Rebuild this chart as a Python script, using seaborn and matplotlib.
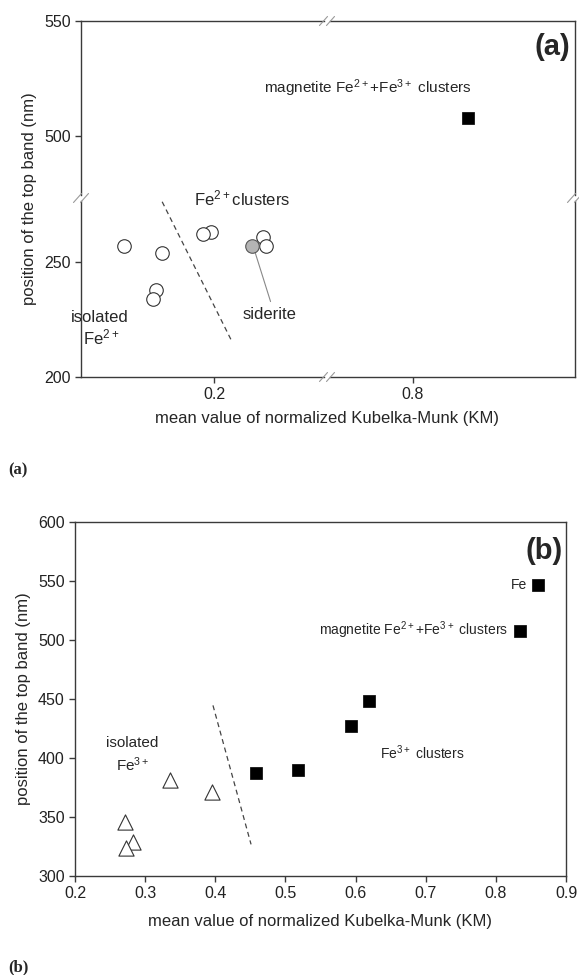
import numpy as np
import pandas as pd
import matplotlib
matplotlib.use("Agg")
import matplotlib.pyplot as plt
from matplotlib.lines import Line2D
import seaborn as sns

# panel (a): Fe2+ species
a_iso_x = [0.143, 0.167, 0.163, 0.161]
a_iso_y = [257, 254, 238, 234]
a_clu_x = [0.198, 0.193, 0.231, 0.233]
a_clu_y = [263, 262, 261, 257]
a_sid_x = [0.224]
a_sid_y = [257]
a_mag_x = [0.835]
a_mag_y = [508]

# panel (b): Fe3+ species
b_tri_x = [0.336, 0.395, 0.271, 0.283, 0.273]
b_tri_y = [381, 371, 346, 328.5, 324]
b_sq_x = [0.458, 0.518, 0.594, 0.619, 0.834, 0.860]
b_sq_y = [387.5, 390, 427, 448, 508, 547]

b_xticks = [0.2, 0.3, 0.4, 0.5, 0.6, 0.7, 0.8, 0.9]
b_yticks = [300, 350, 400, 450, 500, 550, 600]

sns.set_style("ticks")
plt.rcParams["font.family"] = ["Liberation Sans", "DejaVu Sans"]
plt.rcParams["mathtext.default"] = "regular"
plt.rcParams["axes.edgecolor"] = "#3a3a3a"
plt.rcParams["xtick.color"] = "#3a3a3a"
plt.rcParams["ytick.color"] = "#3a3a3a"
plt.rcParams["xtick.labelcolor"] = "#222222"
plt.rcParams["ytick.labelcolor"] = "#222222"

W, H = 579, 975
fig = plt.figure(figsize=(W / 100, H / 100), dpi=100)


def px_axes(x0, y0, x1, y1):
    # pixel box (top-left origin) -> axes
    return fig.add_axes([x0 / W, 1 - y1 / H, (x1 - x0) / W, (y1 - y0) / H])


circ = dict(s=95, facecolor="white", edgecolor="#333333", linewidth=0.8)
sq = dict(s=80, marker="s", color="black", edgecolor="black", linewidth=0.5)
TICK_FS = 11.5
LAB_FS = 12

#panel a - broken axes made from 4 pieces
L, R, T, B = 81, 575, 21, 377
xb, yb, g = 327, 198, 3
ax_tl = px_axes(L, T, xb - g, yb - g)
ax_tr = px_axes(xb + g, T, R, yb - g)
ax_bl = px_axes(L, yb + g, xb - g, B)
ax_br = px_axes(xb + g, yb + g, R, B)

xl_left = (0.2 - (214 - L) / 1571, 0.2 + (xb - g - 214) / 1571)
xl_right = (0.8 - (413 - xb - g) / 1571, 0.8 + (R - 413) / 1571)
yl_low = (200, 200 + (B - yb - g) / 2.3)
yl_high = (550 - (yb - g - T) / 2.3, 550)

for ax in [ax_tl, ax_tr, ax_bl, ax_br]:
    ax.set_facecolor("white")
    for sp in ax.spines.values():
        sp.set_visible(False)
        sp.set_linewidth(1.0)
    ax.tick_params(labelsize=TICK_FS, length=4, width=1)
    ax.set_xticks([])
    ax.set_yticks([])

ax_tl.set_xlim(*xl_left); ax_tl.set_ylim(*yl_high)
ax_tr.set_xlim(*xl_right); ax_tr.set_ylim(*yl_high)
ax_bl.set_xlim(*xl_left); ax_bl.set_ylim(*yl_low)
ax_br.set_xlim(*xl_right); ax_br.set_ylim(*yl_low)

ax_tl.spines["top"].set_visible(True); ax_tl.spines["left"].set_visible(True)
ax_tr.spines["top"].set_visible(True); ax_tr.spines["right"].set_visible(True)
ax_bl.spines["bottom"].set_visible(True); ax_bl.spines["left"].set_visible(True)
ax_br.spines["bottom"].set_visible(True); ax_br.spines["right"].set_visible(True)

ax_tl.set_yticks([500, 550])
ax_bl.set_yticks([200, 250])
ax_bl.set_xticks([0.2])
ax_bl.set_xticklabels(["0.2"])
ax_br.set_xticks([0.8])
ax_br.set_xticklabels(["0.8"])

sns.scatterplot(x=a_iso_x, y=a_iso_y, ax=ax_bl, zorder=3, **circ)
sns.scatterplot(x=a_clu_x, y=a_clu_y, ax=ax_bl, zorder=3, **circ)
sns.scatterplot(x=a_sid_x, y=a_sid_y, ax=ax_bl, s=95, facecolor="#b4b4b4",
                edgecolor="#555555", linewidth=0.8, zorder=4)
sns.scatterplot(x=a_mag_x, y=a_mag_y, ax=ax_tr, zorder=3, **sq)

ax_bl.plot([0.167, 0.211], [276.2, 216], ls=(0, (4, 3)), color="#444444", lw=0.9)
ax_bl.plot([0.225, 0.236], [256.7, 232.8], color="#888888", lw=0.8, zorder=2)
ax_bl.text(0.2356, 227, "siderite", ha="center", va="center", fontsize=12)
ax_bl.text(0.127, 226, "isolated", ha="center", va="center", fontsize=12)
ax_bl.text(0.128, 217, r"Fe$^{2+}$", ha="center", va="center", fontsize=12)
ax_bl.text(0.218, 277.5, r"Fe$^{2+}$clusters", ha="center", va="center",
           fontsize=12, clip_on=False)
fig.text(368 / W, 1 - 88 / H, r"magnetite Fe$^{2+}$+Fe$^{3+}$ clusters",
         ha="center", va="center", fontsize=11)
fig.text(570 / W, 1 - 47 / H, "(a)", ha="right", va="center",
         fontsize=21, fontweight="bold")

fig.text(30 / W, 1 - 199 / H, "position of the top band (nm)", rotation=90,
         ha="center", va="center", fontsize=LAB_FS)
fig.text(327 / W, 1 - 419 / H, "mean value of normalized Kubelka-Munk (KM)",
         ha="center", va="center", fontsize=LAB_FS)
fig.text(8 / W, 1 - 470 / H, "(a)", ha="left", va="center", fontsize=12,
         fontweight="bold", family=["Liberation Serif", "DejaVu Serif"])


# break marks (light grey double slashes)
def slash(xc, yc, dx=8, dy=9, sep=7):
    for k in (-sep / 2, sep / 2):
        fig.add_artist(Line2D([(xc + k - dx / 2) / W, (xc + k + dx / 2) / W],
                              [1 - (yc + dy / 2) / H, 1 - (yc - dy / 2) / H],
                              color="#9a9a9a", lw=0.8))


slash(L, yb)
slash(R, yb)
slash(xb, T)
slash(xb, B)

#panel b
axb = px_axes(75, 522, 566, 876)
sns.scatterplot(x=b_tri_x, y=b_tri_y, ax=axb, marker="^", s=120,
                facecolor="white", edgecolor="#333333", linewidth=0.8, zorder=3)
sns.scatterplot(x=b_sq_x, y=b_sq_y, ax=axb, zorder=3, **sq)
axb.plot([0.3967, 0.451], [444.6, 326.8], ls=(0, (4, 3)), color="#444444", lw=0.9)
axb.set_xlim(0.2, 0.9)
axb.set_ylim(300, 600)
axb.set_xticks(b_xticks)
axb.set_xticklabels([f"{v:.1f}" for v in b_xticks])
axb.set_yticks(b_yticks)
axb.tick_params(labelsize=TICK_FS, length=4, width=1)
for sp in axb.spines.values():
    sp.set_linewidth(1.0)
axb.set_xlabel("mean value of normalized Kubelka-Munk (KM)", fontsize=LAB_FS, labelpad=9)
axb.set_ylabel("position of the top band (nm)", fontsize=LAB_FS, labelpad=5)

axb.text(0.282, 413, "isolated", ha="center", va="center", fontsize=11)
axb.text(0.283, 394, r"Fe$^{3+}$", ha="center", va="center", fontsize=11)
axb.text(0.695, 404.5, r"Fe$^{3+}$ clusters", ha="center", va="center", fontsize=10)
axb.text(0.818, 508.5, r"magnetite Fe$^{2+}$+Fe$^{3+}$ clusters", ha="right",
         va="center", fontsize=10)
axb.text(0.845, 547, "Fe", ha="right", va="center", fontsize=10)
axb.text(0.895, 575, "(b)", ha="right", va="center", fontsize=21, fontweight="bold")

fig.text(8 / W, 1 - 967 / H, "(b)", ha="left", va="center", fontsize=12,
         fontweight="bold", family=["Liberation Serif", "DejaVu Serif"])

fig.savefig("out.png", dpi=100, facecolor="white")
